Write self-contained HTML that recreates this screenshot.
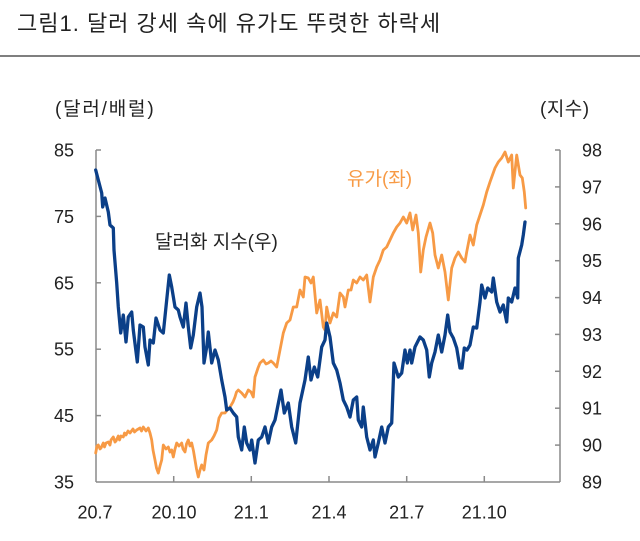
<!DOCTYPE html>
<html>
<head>
<meta charset="utf-8">
<style>
  html,body{margin:0;padding:0;background:#fff;}
  svg{display:block;}
  text{font-family:"Liberation Sans","Noto Sans CJK KR",sans-serif;}
</style>
</head>
<body>
<svg width="640" height="541" viewBox="0 0 640 541" xmlns="http://www.w3.org/2000/svg">
  <rect width="640" height="541" fill="#fff"/>
  <!-- Title -->
  <text x="17" y="31" font-size="22" fill="#222" letter-spacing="1">그림1. 달러 강세 속에 유가도 뚜렷한 하락세</text>
  <line x1="0" y1="56" x2="640" y2="56" stroke="#555" stroke-width="1.6"/>

  <!-- Axis unit labels -->
  <text x="55" y="115" font-size="19" fill="#222" letter-spacing="1.8">(달러/배럴)</text>
  <text x="540" y="115" font-size="19" fill="#222" letter-spacing="0.5">(지수)</text>

  <!-- Axes -->
  <g stroke="#8a8a8a" stroke-width="1.5" fill="none">
    <line x1="96" y1="150" x2="96" y2="482"/>
    <line x1="96" y1="482" x2="560" y2="482"/>
    <line x1="560" y1="150" x2="560" y2="482"/>
    <line x1="96" y1="150" x2="101" y2="150"/>
    <line x1="96" y1="216.4" x2="101" y2="216.4"/>
    <line x1="96" y1="282.8" x2="101" y2="282.8"/>
    <line x1="96" y1="349.2" x2="101" y2="349.2"/>
    <line x1="96" y1="415.6" x2="101" y2="415.6"/>
    <line x1="555" y1="150" x2="560" y2="150"/>
    <line x1="555" y1="186.9" x2="560" y2="186.9"/>
    <line x1="555" y1="223.8" x2="560" y2="223.8"/>
    <line x1="555" y1="260.7" x2="560" y2="260.7"/>
    <line x1="555" y1="297.6" x2="560" y2="297.6"/>
    <line x1="555" y1="334.4" x2="560" y2="334.4"/>
    <line x1="555" y1="371.3" x2="560" y2="371.3"/>
    <line x1="555" y1="408.2" x2="560" y2="408.2"/>
    <line x1="555" y1="445.1" x2="560" y2="445.1"/>
    <line x1="173.7" y1="476" x2="173.7" y2="482"/>
    <line x1="251.3" y1="476" x2="251.3" y2="482"/>
    <line x1="329" y1="476" x2="329" y2="482"/>
    <line x1="406.7" y1="476" x2="406.7" y2="482"/>
    <line x1="484.3" y1="476" x2="484.3" y2="482"/>
  </g>

  <!-- Left tick labels -->
  <g font-size="18" fill="#222" text-anchor="end">
    <text x="74" y="156.5">85</text>
    <text x="74" y="222.9">75</text>
    <text x="74" y="289.3">65</text>
    <text x="74" y="355.7">55</text>
    <text x="74" y="422.1">45</text>
    <text x="74" y="488.5">35</text>
  </g>
  <!-- Right tick labels -->
  <g font-size="18" fill="#222">
    <text x="582" y="156.5">98</text>
    <text x="582" y="193.4">97</text>
    <text x="582" y="230.3">96</text>
    <text x="582" y="267.2">95</text>
    <text x="582" y="304.1">94</text>
    <text x="582" y="340.9">93</text>
    <text x="582" y="377.8">92</text>
    <text x="582" y="414.7">91</text>
    <text x="582" y="451.6">90</text>
    <text x="582" y="488.5">89</text>
  </g>
  <!-- X labels -->
  <g font-size="18" fill="#222" text-anchor="middle">
    <text x="95" y="518.5">20.7</text>
    <text x="174" y="518.5">20.10</text>
    <text x="251.3" y="518.5">21.1</text>
    <text x="329" y="518.5">21.4</text>
    <text x="406.7" y="518.5">21.7</text>
    <text x="484.3" y="518.5">21.10</text>
  </g>

  <!-- Oil (orange) -->
  <polyline fill="none" stroke="#F79A45" stroke-width="2.8" stroke-linejoin="round" stroke-linecap="round" points="
95.7,453 97,446 98.3,445 100,449 101,448 103.3,443 104.5,447 106,443 108.3,442 110,445 111,440 113.3,437 115,442 116,441 118.3,436 119.5,440 121,436 123.3,437 124.5,433 126,435 128,431 130,433 133,429 134.5,432 136.7,430 140,428 141.5,431 143.3,427 146,431 148.3,428 150,433 151.7,440 153,450 155,460 156.5,468 158.3,473 160,466 161.7,460 163.3,445 166,449 168.3,447 170,452 171.7,450 173.3,457 175,449 176.7,443 179,446 181.7,443 183,449 185,452 186.5,444 188.3,440 190,446 191.7,443 193.5,451 195,460 196.5,469 198.3,477 200,470 201.7,465 204,470 206,455 208.3,443 211.7,440 214,436 216.7,430 219,418 221.7,413 225,413 228,409 230,407 233,402 235,397 236.5,392 238.3,390 241.7,393 245,397 248.3,390 251,392 253.3,397 255,377 258,368 260,363 263.3,360 266,364 268.3,363 271,361 273.3,363 276.7,367 280,350 283.3,333 286.7,323 290,320 293.3,307 296.7,307 300,290 303.3,297 305,277 308.3,278 311,283 313.3,277 316.7,313 320,300 323.3,327 325,330 326.7,307 330,323 333.3,313 336.7,317 340,293 343.3,297 345,307 348.3,290 351,290 353.3,280 356.7,283 360,277 363.3,280 366.7,275 370,302 373.3,277 376.7,267 380,260 383.3,250 386.7,247 390,240 393.3,233 396.7,227 400,223 403.3,217 406.7,223 410,213 412.7,230 416,215 418.3,233 420.7,272 423.3,250 426,237 430,223 432.7,233 435,255 438.3,268 441.7,255 445,272 448.3,300 451.7,268 455,258 458.3,252 461.7,258 465,262 466.7,252 470,235 473.3,245 476.7,225 480,215 483.3,205 486.7,192 490,182 492.5,175 495,168 498.3,162 501.7,158 505,152 508.3,162 511.7,155 513.3,188 516.7,155 520,175 522.3,178 524.3,192 525.7,208"/>

  <!-- Dollar index (blue) -->
  <polyline fill="none" stroke="#0B3F88" stroke-width="3.3" stroke-linejoin="round" stroke-linecap="round" points="
95.7,170 98.3,180 101.7,193 102.7,207 105,198 108.3,212 110,225 113.3,228 114,250 116.7,283 118.3,307 120.7,333 123.3,315 126,342 128.3,317 131.7,312 133.3,330 137.3,362 140,325 143.3,327 145,347 148.3,365 150,340 153.3,343 156,318 160,330 163.3,333 166.7,300 169.3,275 171.7,287 175,307 178.3,310 180,317 183.3,327 186,303 188.3,327 190.7,348 193.3,335 196.7,307 200,293 202,307 204,363 206.7,347 208.3,332 211.7,363 215,350 218.3,360 221.7,380 225,397 226.7,410 230,408 233.3,413 236.7,417 238.3,437 241.7,450 244.3,427 246.7,443 250,450 251.7,440 255,463 258.3,440 261.7,437 265,427 268.3,443 271.7,427 275,420 281,390 284.3,413 288.3,403 291.7,427 295.7,443 300,403 305,380 308.3,357 311,380 314.3,367 317.7,377 321.7,347 325,340 326.7,323 330,337 333.3,363 336.7,370 340,383 343.3,400 346.7,407 350,417 353.3,400 356.7,397 358.3,420 361.7,427 363.3,407 366.7,437 370,450 373.3,440 375,457 378.3,443 381.7,427 385,443 388.3,427 391.7,423 394,363 398.3,377 401.7,373 405,350 407.3,363 410,350 411.7,363 415,347 420,337 423.3,340 426.7,350 429.3,377 431.7,363 435,352 438.3,335 441.7,352 445,335 447.7,315 450,332 453.3,338 456.7,348 460,368 462,368 464.3,348 467,350 470,345 473.3,327 476.7,328 480,302 481.7,285 485,298 487.7,288 491.7,292 493.3,278 496.7,302 500,312 503.3,305 506.7,322 508.3,298 511.7,302 515,288 517.7,298 518.3,258 521.7,245 523.3,235 525,222"/>

  <!-- Series labels -->
  <text x="155" y="248" font-size="19" fill="#222">달러화 지수(우)</text>
  <text x="347" y="185" font-size="19" fill="#F79A45">유가(좌)</text>
</svg>
</body>
</html>
